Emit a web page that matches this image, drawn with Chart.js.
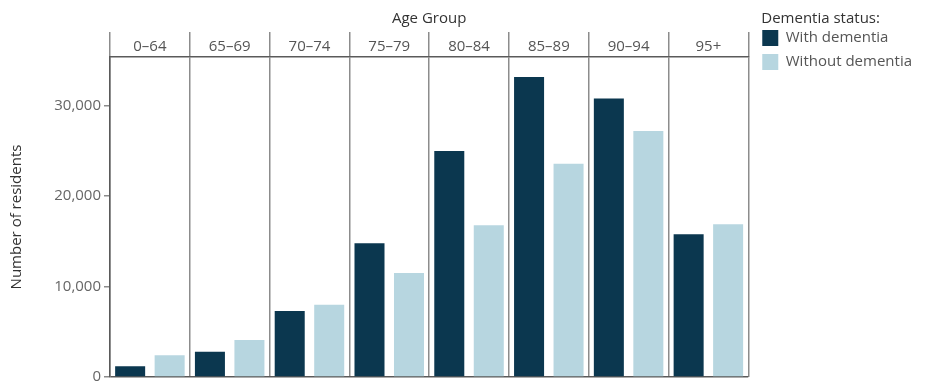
<!DOCTYPE html>
<html>
<head>
<meta charset="utf-8">
<script src="https://cdn.jsdelivr.net/npm/chart.js@4"></script>
<style>
  html, body { margin: 0; padding: 0; background: #fff; }
  #wrap { width: 925px; height: 389px; }
</style>
</head>
<body>
<div id="wrap"><canvas id="chart" width="925" height="389"></canvas></div>
<script>
const ageGroups = ['0–64', '65–69', '70–74', '75–79', '80–84', '85–89', '90–94', '95+'];
const withDementia = [1200, 2800, 7300, 14800, 25000, 33200, 30800, 15800];
const withoutDementia = [2400, 4100, 8000, 11500, 16800, 23600, 27200, 16900];
const seriesLabels = ['With dementia', 'Without dementia'];
const seriesColors = ['#0b374f', '#b7d6e0'];
const yTicks = [0, 10000, 20000, 30000];
const yMax = 35400;

const fontFamily = '"Open Sans", "Noto Sans", sans-serif';
const lineGray = '#8c8c8c';
const axisGray = '#5a5a5a';

// nudge the legend a little to the right of the plot edge,
// and line its title up with the colour boxes
const legendShift = {
    id: 'legendShift',
    afterLayout(chart) {
        const legend = chart.legend;
        legend.left += 6;
        legend.right += 6;
        if (!legend._titlePatched) {
            const drawTitle = legend.drawTitle;
            legend.drawTitle = function () {
                const left = this.left;
                this.left = left + 7;
                drawTitle.call(this);
                this.left = left;
            };
            legend._titlePatched = true;
        }
    }
};

const ctx = document.getElementById('chart').getContext('2d');
new Chart(ctx, {
    type: 'bar',
    data: {
        labels: ageGroups,
        datasets: [
            { label: seriesLabels[0], data: withDementia, backgroundColor: seriesColors[0] },
            { label: seriesLabels[1], data: withoutDementia, backgroundColor: seriesColors[1] }
        ]
    },
    plugins: [legendShift],
    options: {
        responsive: false,
        devicePixelRatio: 1,
        animation: false,
        categoryPercentage: 0.99,
        barPercentage: 0.76,
        layout: { padding: { top: 0, left: 0, right: 9, bottom: 2 } },
        plugins: {
            tooltip: { enabled: false },
            legend: {
                position: 'right',
                align: 'start',
                title: {
                    display: true,
                    text: 'Dementia status:',
                    color: '#333',
                    font: { family: fontFamily, size: 15 },
                    padding: { top: 11, bottom: -7 },
                    position: 'start'
                },
                labels: {
                    boxWidth: 16,
                    boxHeight: 16,
                    padding: 8,
                    color: '#555',
                    font: { family: fontFamily, size: 15 }
                }
            }
        },
        scales: {
            x: {
                position: 'top',
                afterFit: scale => { scale.height = 57; },
                grid: {
                    offset: true,
                    color: lineGray,
                    lineWidth: 1.5,
                    tickLength: 25
                },
                border: { color: axisGray, width: 1.5 },
                ticks: {
                    color: '#555',
                    padding: -24,
                    font: { family: fontFamily, size: 15 }
                },
                title: {
                    display: true,
                    text: 'Age Group',
                    color: '#333',
                    font: { family: fontFamily, size: 15 },
                    padding: { top: 10, bottom: 0 }
                }
            },
            y: {
                min: 0,
                max: yMax,
                afterFit: scale => { scale.width = 110; },
                afterBuildTicks: scale => { scale.ticks = yTicks.map(v => ({ value: v })); },
                grid: {
                    color: c => c.tick && c.tick.value === 0 ? axisGray : 'rgba(0,0,0,0)',
                    tickColor: lineGray,
                    lineWidth: 1.5,
                    tickLength: 6
                },
                border: { color: axisGray, width: 1.5 },
                ticks: {
                    color: '#666',
                    padding: 3,
                    font: { family: fontFamily, size: 15 }
                },
                title: {
                    display: true,
                    text: 'Number of residents',
                    color: '#333',
                    font: { family: fontFamily, size: 15 },
                    padding: { top: 8, bottom: 0 }
                }
            }
        }
    }
});
</script>
</body>
</html>
